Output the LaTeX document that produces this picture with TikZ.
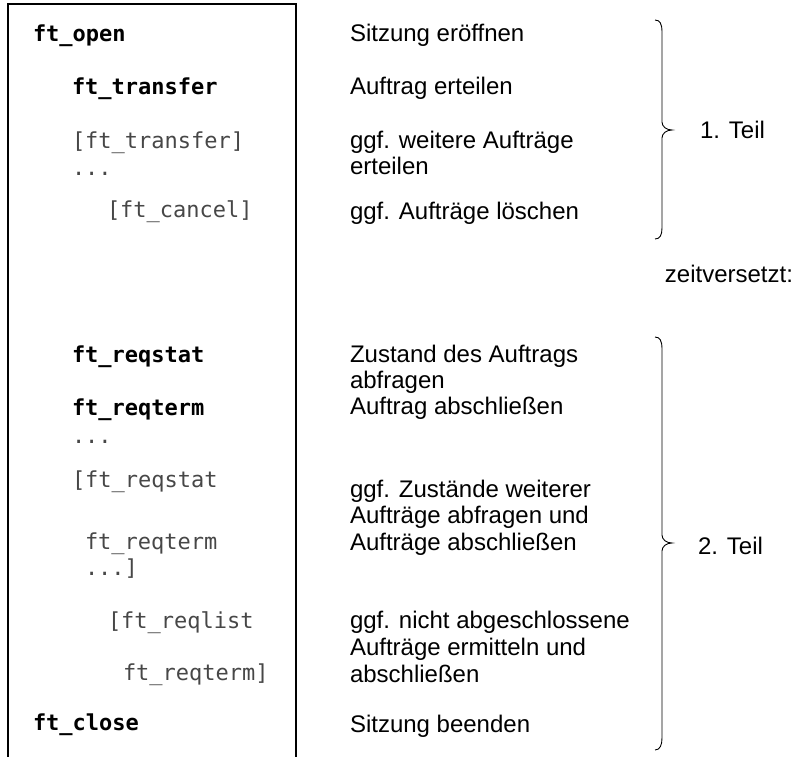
\documentclass[tikz,border=0pt]{standalone}
\usepackage{fontspec}
\setmainfont{Liberation Sans}
\newfontfamily\monob{DejaVu Sans Mono}[BoldFont={DejaVu Sans Mono Bold}]
\definecolor{lightcode}{gray}{0.28}
\begin{document}
\begin{tikzpicture}[x=1pt,y=-1pt,
  every node/.style={inner sep=0pt,outer sep=0pt,anchor=base west},
  codeb/.style={font=\monob\bfseries\fontsize{22}{26}\selectfont,text=black},
  codel/.style={font=\monob\fontsize{22}{26}\selectfont,text=lightcode},
  desc/.style={font=\fontsize{24}{27}\selectfont,text=black},
  frame/.style={line width=1.2pt,draw=black},
  bracestyle/.style={line width=0.9pt,draw=black}]
\useasboundingbox (0,0) rectangle (796,757);
% frame (open at bottom)
\coordinate (fbl) at (8,757);
\coordinate (ftl) at (8,4);
\coordinate (ftr) at (296,4);
\coordinate (fbr) at (296,757);
\draw[frame] (fbl) -- (ftl) -- (ftr) -- (fbr);
% code column
\node[codeb] (m1) at (33,42) {ft\_open};
\node[codeb] (m2) at (72,95) {ft\_transfer};
\node[codel] (m3) at (72,149) {[ft\_transfer]};
\node[codel] (m4) at (72,176) {...};
\node[codel] (m5) at (107,218) {[ft\_cancel]};
\node[codeb] (m6) at (72,362) {ft\_reqstat};
\node[codeb] (m7) at (72,415) {ft\_reqterm};
\node[codel] (m8) at (72,443) {...};
\node[codel] (m9) at (72,487) {[ft\_reqstat};
\node[codel] (m10) at (85,549) {ft\_reqterm};
\node[codel] (m11) at (85,575) {...]};
\node[codel] (m12) at (108,628) {[ft\_reqlist};
\node[codel] (m13) at (123,680) {ft\_reqterm]};
\node[codeb] (m14) at (33,730) {ft\_close};
% description column
\node[desc] (d1) at (350,42) {Sitzung eröffnen};
\node[desc] (d2) at (350,95) {Auftrag erteilen};
\node[desc] (d3a) at (350,149) {ggf. weitere Aufträge};
\node[desc] (d3b) at (350,175) {erteilen};
\node[desc] (d4) at (350,219) {ggf. Aufträge löschen};
\node[desc] (d5a) at (350,362) {Zustand des Auftrags};
\node[desc] (d5b) at (350,388) {abfragen};
\node[desc] (d6) at (350,414) {Auftrag abschließen};
\node[desc] (d7a) at (350,497) {ggf. Zustände weiterer};
\node[desc] (d7b) at (350,523) {Aufträge abfragen und};
\node[desc] (d7c) at (350,550) {Aufträge abschließen};
\node[desc] (d8a) at (350,628) {ggf. nicht abgeschlossene};
\node[desc] (d8b) at (350,655) {Aufträge ermitteln und};
\node[desc] (d8c) at (350,682) {abschließen};
\node[desc] (d9) at (350,732) {Sitzung beenden};
% part labels
\node[desc] (p1) at (700,139) {1. Teil};
\node[desc,anchor=base east] (zv) at (793,283) {zeitversetzt:};
\node[desc] (p2) at (698,554) {2. Teil};
% braces
\draw[bracestyle] (655,20) .. controls (660,20) and (662,24) .. (662,32)
  -- (662,122) .. controls (662,127) and (667,130) .. (672,130)
  .. controls (667,130) and (662,133) .. (662,138)
  -- (662,228) .. controls (662,235) and (660,239) .. (655,239);
\draw[bracestyle] (655,337) .. controls (660,337) and (662,341) .. (662,349)
  -- (662,535) .. controls (662,540) and (667,543) .. (672,543)
  .. controls (667,543) and (662,546) .. (662,551)
  -- (662,738) .. controls (662,745) and (660,750) .. (655,750);
\end{tikzpicture}
\end{document}
